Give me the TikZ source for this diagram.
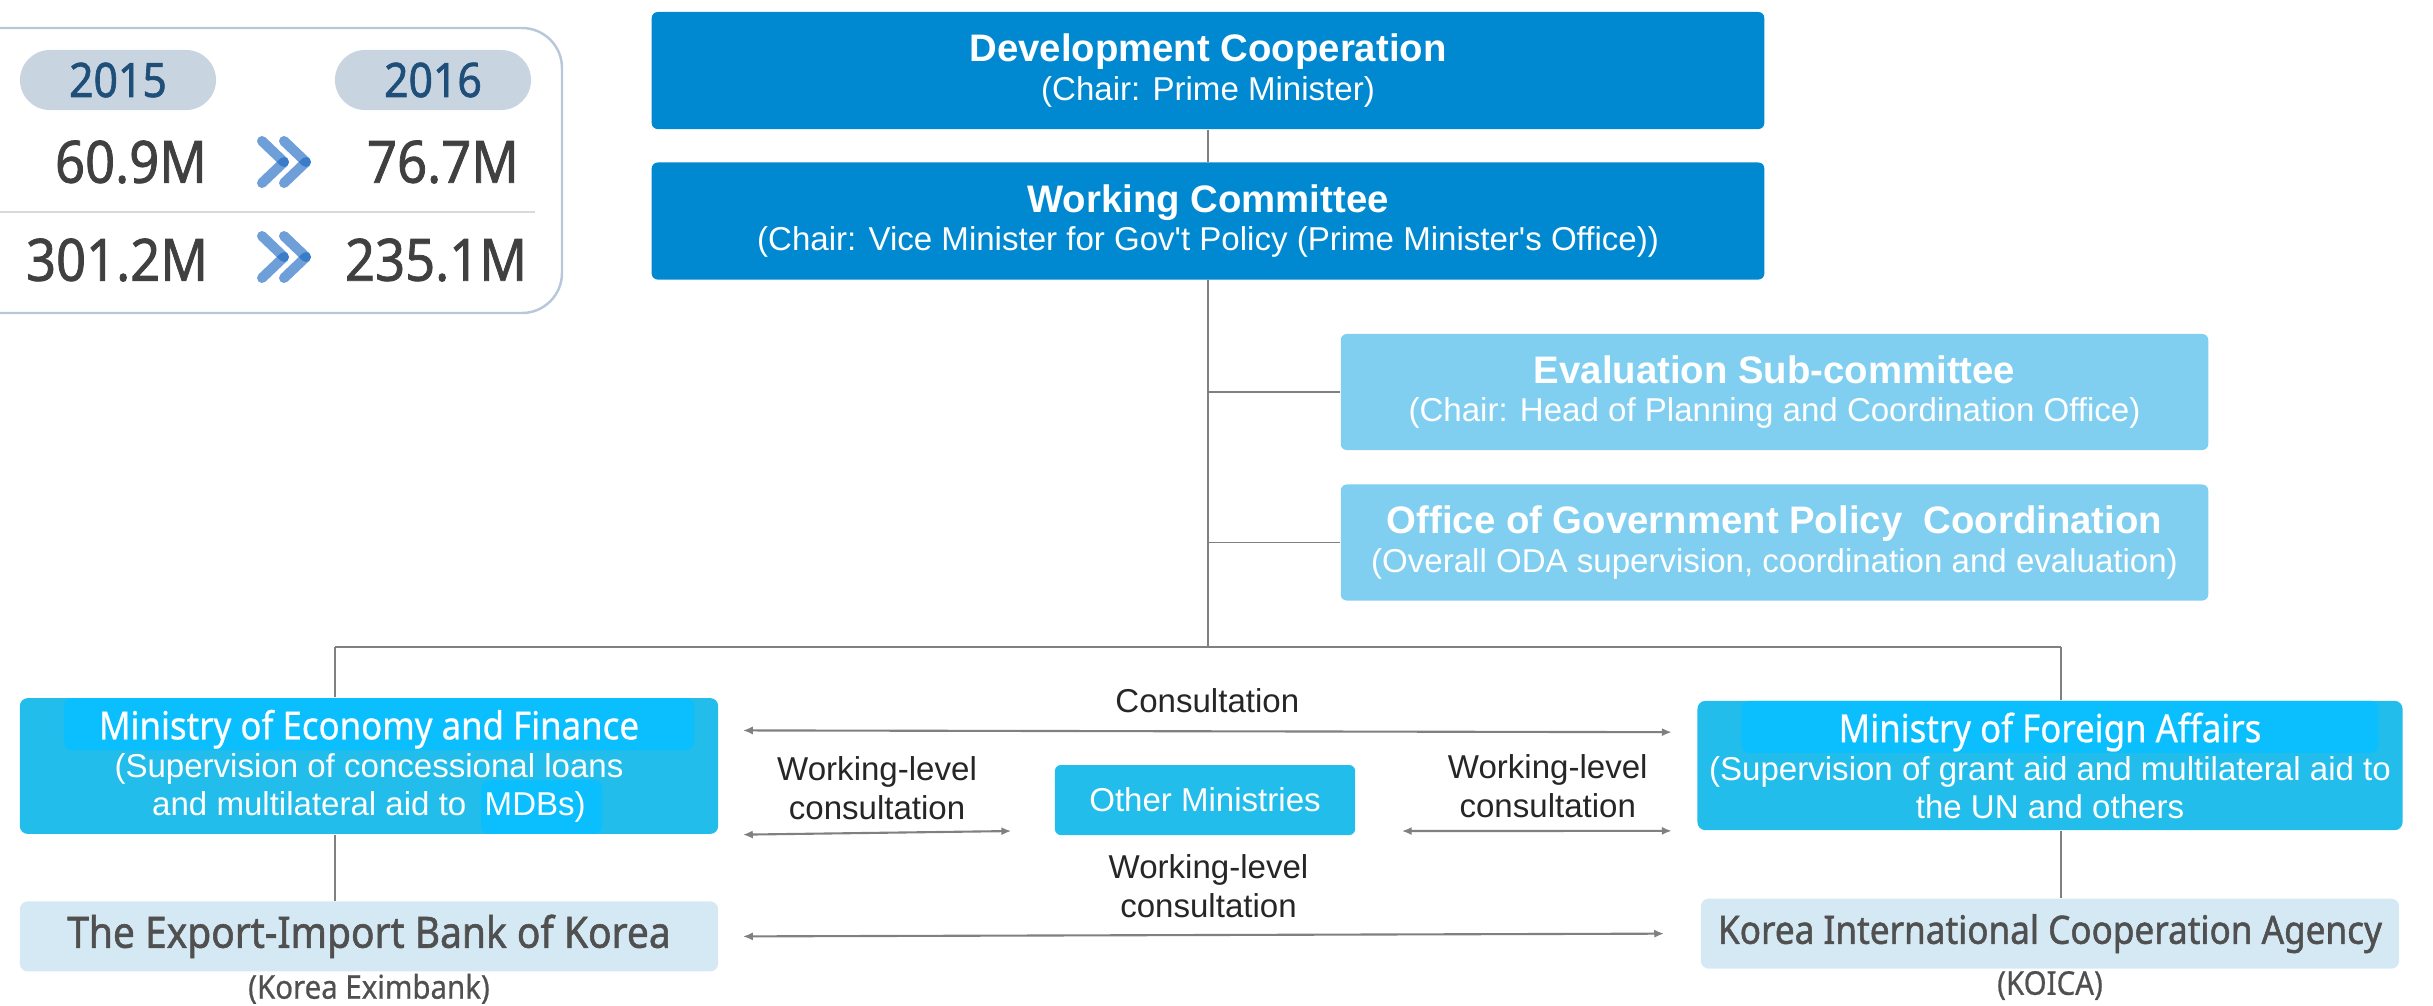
\documentclass[tikz,border=0pt]{standalone}
\usepackage{fontspec}
\setmainfont{Liberation Sans}
\newfontfamily\krfont[FakeStretch=0.9, FakeBold=0.6]{Noto Sans}
\newfontfamily\krbfont[FakeStretch=0.9, FakeBold=1.3]{Noto Sans}
\usetikzlibrary{positioning, arrows.meta}

\definecolor{coopblue}{RGB}{0,137,208}
\definecolor{subblue}{RGB}{128,207,241}
\definecolor{minblue}{RGB}{34,189,235}
\definecolor{bandblue}{RGB}{11,191,255}
\definecolor{agencyblue}{RGB}{213,233,245}
\definecolor{pillgray}{RGB}{200,213,224}
\definecolor{yearblue}{RGB}{31,78,121}
\definecolor{numgray}{RGB}{64,64,64}
\definecolor{agencygray}{RGB}{80,80,80}
\definecolor{linegray}{RGB}{128,128,128}
\definecolor{chevblue}{RGB}{26,103,193}
\definecolor{panelline}{RGB}{184,200,218}

\tikzstyle{topbox} = [rectangle, rounded corners=0.06cm, fill=coopblue, text=white, minimum width=11.12cm, minimum height=1.17cm, align=center, font=\fontsize{9.4}{11}\selectfont]
\tikzstyle{subbox} = [rectangle, rounded corners=0.06cm, fill=subblue, text=white, minimum width=8.67cm, minimum height=1.16cm, align=center, font=\fontsize{9.4}{11}\selectfont]
\tikzstyle{ministry} = [rectangle, rounded corners=0.08cm, fill=minblue, text=white, minimum width=6.98cm, minimum height=1.29cm, align=center, font=\fontsize{9.4}{10.8}\selectfont]
\tikzstyle{titleband} = [path picture={\fill[bandblue] ([xshift=0.44cm]path picture bounding box.north west) rectangle ([xshift=-0.24cm,yshift=-0.52cm]path picture bounding box.north east);}]
\tikzstyle{agency} = [rectangle, rounded corners=0.08cm, fill=agencyblue, text=agencygray, minimum width=6.98cm, minimum height=0.70cm]
\tikzstyle{note} = [inner sep=0pt, text=agencygray, font=\krfont\fontsize{9.3}{11}\selectfont]
\tikzstyle{pill} = [rectangle, rounded corners=0.3cm, fill=pillgray, text=yearblue, minimum width=1.96cm, minimum height=0.6cm, font=\krbfont\fontsize{13.5}{14}\selectfont]
\tikzstyle{amount} = [inner sep=0pt, text=numgray, font=\krbfont\fontsize{16.6}{18}\selectfont]
\tikzstyle{tree} = [linegray, line width=0.4pt]
\tikzstyle{biarrow} = [linegray, line width=0.6pt, {Latex[length=2.8pt,width=2.3pt]}-{Latex[length=2.8pt,width=2.3pt]}]
\tikzstyle{arrowlabel} = [inner sep=0pt, align=center, text=black!85, font=\fontsize{9.4}{11}\selectfont]
\tikzstyle{chevron} = [chevblue, opacity=0.63, line width=0.1cm, line cap=round]

\begin{document}
\begin{tikzpicture}[x=0.01cm, y=-0.01cm]
  \useasboundingbox (0,0) rectangle (2433,1005);

  % Budget panel
  \draw[panelline, line width=0.7pt, rounded corners=0.4cm] (-60,28) rectangle (562,313);
  \draw[black!15, line width=0.6pt] (0,212) -- (535,212);
  \node (y2015) [pill] at (118,80) {2015};
  \node (y2016) [pill] at (433,80) {2016};
  \node (amt15a) [amount] at (131,162) {60.9M};
  \node (amt16a) [amount] at (443,162) {76.7M};
  \node (amt15b) [amount] at (117,260) {301.2M};
  \node (amt16b) [amount] at (436,260) {235.1M};
  \foreach \y in {162,257} {
    \foreach \dx in {0,22} {
      \draw[chevron] (262+\dx,\y-21) -- (284+\dx,\y);
      \draw[chevron] (284+\dx,\y) -- (262+\dx,\y+21);
    }
  }

  % Committees
  \node (devcoop) [topbox] at (1208,70.5) {{\fontsize{10.9}{11}\bfseries Development Cooperation}\\(Chair: Prime Minister)};
  \node (workcom) [topbox, below=0.32cm of devcoop] {{\fontsize{10.9}{11}\bfseries Working Committee}\\(Chair: Vice Minister for Gov\textquotesingle t Policy (Prime Minister\textquotesingle s Office))};
  \node (evalsub) [subbox] at (1774.5,392) {{\fontsize{10.9}{11}\bfseries Evaluation Sub-committee}\\(Chair: Head of Planning and Coordination Office)};
  \node (officegpc) [subbox, below=0.33cm of evalsub] {{\fontsize{10.9}{11}\bfseries Office of Government Policy~~Coordination}\\(Overall ODA supervision, coordination and evaluation)};

  % Ministries and agencies
  \node (moef) [ministry, path picture={
      \fill[bandblue] ([xshift=0.44cm]path picture bounding box.north west) rectangle ([xshift=-0.24cm,yshift=-0.52cm]path picture bounding box.north east);
      \fill[bandblue] ([xshift=4.61cm,yshift=-0.82cm]path picture bounding box.north west) rectangle ([xshift=5.82cm]path picture bounding box.south west);}] at (369,766)
    {{\krfont\fontsize{11}{12}\selectfont Ministry of Economy and Finance}\\(Supervision of concessional loans\\and multilateral aid to~~MDBs)};
  \node (mofa) [ministry, titleband] at (2050,765.5)
    {{\krfont\fontsize{11}{12}\selectfont Ministry of Foreign Affairs}\\(Supervision of grant aid and multilateral aid to\\the UN and others};
  \node (exim) [agency, below=0.66cm of moef, font=\krbfont\fontsize{12.3}{13}\selectfont] {The Export-Import Bank of Korea};
  \node (koica) [agency, below=0.67cm of mofa, font=\krbfont\fontsize{11.1}{12}\selectfont] {Korea International Cooperation Agency};
  \node (eximnote) [note, below=0.01cm of exim] {(Korea Eximbank)};
  \node (koicanote) [note, below=0.01cm of koica] {(KOICA)};
  \node (others) [rectangle, rounded corners=0.06cm, fill=minblue, text=white, minimum width=3cm, minimum height=0.7cm, font=\fontsize{9.4}{11}\selectfont] at (1205,800) {Other Ministries};

  % Hierarchy lines
  \coordinate (hub) at (1208,647);
  \coordinate (lhub) at (335,647);
  \coordinate (rhub) at (2061,647);
  \draw[tree] (devcoop) -- (workcom);
  \draw[tree] (workcom.south) -- (hub);
  \draw[tree] (hub |- evalsub.west) -- (evalsub.west);
  \draw[tree] (hub |- officegpc.west) -- (officegpc.west);
  \draw[tree] (lhub) -- (rhub);
  \draw[tree] (lhub) -- (lhub |- moef.north);
  \draw[tree] (lhub |- moef.south) -- (lhub |- exim.north);
  \draw[tree] (rhub) -- (rhub |- mofa.north);
  \draw[tree] (rhub |- mofa.south) -- (rhub |- koica.north);

  % Consultation arrows
  \draw[biarrow] ([xshift=0.24cm,yshift=-0.33cm]moef.north east) -- node[arrowlabel, above=0.17cm] {Consultation} ([xshift=-0.25cm,yshift=-0.32cm]mofa.north west);
  \draw[biarrow] ([xshift=0.24cm]moef.south east) -- node[arrowlabel, above=0.12cm] {Working-level\\consultation} ([xshift=-0.43cm,yshift=-0.31cm]others.west);
  \draw[biarrow] ([xshift=0.46cm,yshift=-0.31cm]others.east) -- node[arrowlabel, above=0.12cm, xshift=0.11cm] {Working-level\\consultation} ([xshift=-0.25cm]mofa.south west);
  \draw[biarrow] ([xshift=0.24cm]exim.east) -- node[arrowlabel, above=0.16cm, xshift=0.05cm] {Working-level\\consultation} ([xshift=-0.36cm]koica.west);

\end{tikzpicture}
\end{document}
